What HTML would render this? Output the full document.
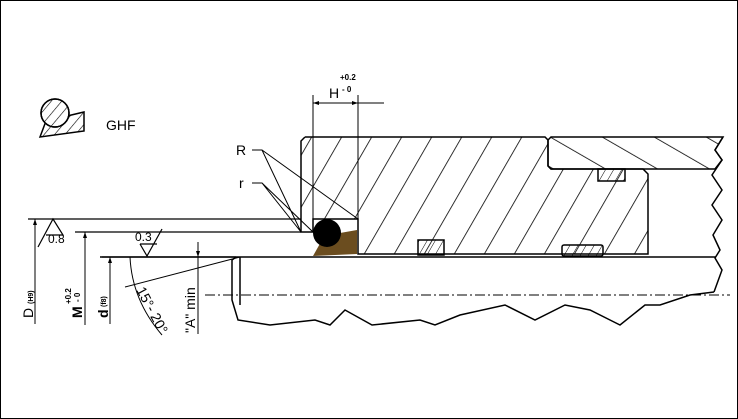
<!DOCTYPE html>
<html><head><style>html,body{margin:0;padding:0;background:#fff}svg{display:block}</style></head><body>
<svg width="738" height="419" viewBox="0 0 738 419" xmlns="http://www.w3.org/2000/svg" font-family="Liberation Sans, sans-serif">
<defs>
<pattern id="h1" patternUnits="userSpaceOnUse" width="26" height="26" patternTransform="rotate(30)"><line x1="0" y1="0" x2="0" y2="26" stroke="#000" stroke-width="1.6"/></pattern>
<pattern id="h2" patternUnits="userSpaceOnUse" width="26" height="26" patternTransform="rotate(-60)"><line x1="0" y1="0" x2="0" y2="26" stroke="#000" stroke-width="1.6"/></pattern>
<pattern id="h3" patternUnits="userSpaceOnUse" width="7" height="7" patternTransform="rotate(30)"><line x1="0" y1="0" x2="0" y2="7" stroke="#000" stroke-width="1"/></pattern>
<pattern id="h4" patternUnits="userSpaceOnUse" width="8" height="8" patternTransform="rotate(40)"><line x1="0" y1="0" x2="0" y2="8" stroke="#000" stroke-width="1.2"/></pattern>
</defs>
<rect x="0.5" y="0.5" width="737" height="418" fill="none" stroke="#000"/>
<g stroke="#000" stroke-width="1.5" fill="none">
<polygon points="40,137 46,121 84,112 84,131" fill="url(#h4)"/>
<circle cx="55" cy="113" r="14" fill="#fff"/>
<circle cx="55" cy="113" r="14" fill="url(#h4)"/>
<path d="M305,137 L545,137 L548,140 M305,137 L301,141 L301,232 L313,232 L313,219 L358,219 L358,254 L648,254 L648,174 L643,169 L551,169 L548,166 L548,140" fill="url(#h1)"/>
<path d="M551,137 L723,137 L715,150 L722,160 L715,169 L551,169 L548,166 L548,140 Z" fill="url(#h2)"/>
<path d="M723,137 L715,150 L722,160 L712,175 L722,190 L712,205 L722,220 L713,235 L720,250 L715,258 L722,270 L714,292"/>
<path d="M100,257 L716,257"/>
<path d="M236,257 L232,260 L232,300 L238,320 L270,325 L315,320 L330,325 L345,310 L372,325 L420,320 L435,325 L460,315 L505,305 L535,320 L565,305 L590,310 L610,320 L620,325 L645,305 L660,305 L690,295 L714,292"/>
<path d="M240,257 L240,305"/>
<path d="M205,295 L730,295" stroke-width="1" stroke-dasharray="10,3,2,3"/>
<rect x="418" y="240" width="26" height="15" fill="url(#h3)"/>
<rect x="598" y="169" width="27" height="12" fill="url(#h3)"/>
<rect x="562" y="245" width="41" height="11" rx="2" fill="url(#h3)"/>
<path d="M28,219 L301,219 M75,232 L301,232 M102,257 L236,257" stroke-width="1.2"/>
<path d="M35,219 L35,324 M85,232 L85,325 M110,257 L110,324 M198,242 L198,334" stroke-width="1"/>
<path d="M313,95 L313,219 M358,95 L358,219 M313,103 L384,103" stroke-width="1"/>
<path d="M38,247 L53,219 L63,235 L46,235" stroke-width="1.2"/>
<path d="M140,244 L157,244 M140,244 L147,256 L162,229" stroke-width="1.2"/>
<path d="M125,287 L240,257 M130,257 Q132,300 162,335" stroke-width="1"/>
<path d="M252,150 L262,150 L301,232 M262,150 L358,219 M252,183 L262,183 L301,232 M262,183 L313,232" stroke-width="1"/>
</g>
<g fill="#000">
<path d="M35,219 l-2,6 4,0z M85,232 l-2,6 4,0z M110,257 l-2,6 4,0z M198,257 l-2,-6 4,0z M313,103 l6,-2 0,4z M358,103 l-6,-2 0,4z"/>
</g>
<path d="M313,256 L322,240 L340,233 L357,230 L357,254 Z" fill="#6b4d1f"/>
<circle cx="327" cy="233" r="14" fill="#000"/>
<g font-size="13" fill="#000">
<text x="106" y="130" font-size="14">GHF</text>
<text x="236" y="155" font-size="14">R</text>
<text x="239" y="188" font-size="14">r</text>
<text x="329" y="98" font-size="14">H</text>
<text x="340" y="80" font-size="8" font-weight="bold">+0.2</text>
<text x="342" y="92" font-size="8" font-weight="bold">- 0</text>
<text x="48" y="243" font-size="12">0.8</text>
<text x="135" y="241" font-size="12">0.3</text>
<text transform="translate(33,318) rotate(-90)" font-size="14">D</text>
<text transform="translate(33,304) rotate(-90)" font-size="7" font-weight="bold">(H9)</text>
<text transform="translate(82,318) rotate(-90)" font-size="14" font-weight="bold">M</text>
<text transform="translate(71,304) rotate(-90)" font-size="8" font-weight="bold">+0.2</text>
<text transform="translate(80,302) rotate(-90)" font-size="8" font-weight="bold">- 0</text>
<text transform="translate(108,318) rotate(-90)" font-size="14" font-weight="bold">d</text>
<text transform="translate(106,307) rotate(-90)" font-size="7" font-weight="bold">(f8)</text>
<text transform="translate(195,333) rotate(-90)" font-size="14">"A" min</text>
<text transform="translate(136,290) rotate(62)" font-size="14">15°- 20°</text>
</g>
</svg>
</body></html>
